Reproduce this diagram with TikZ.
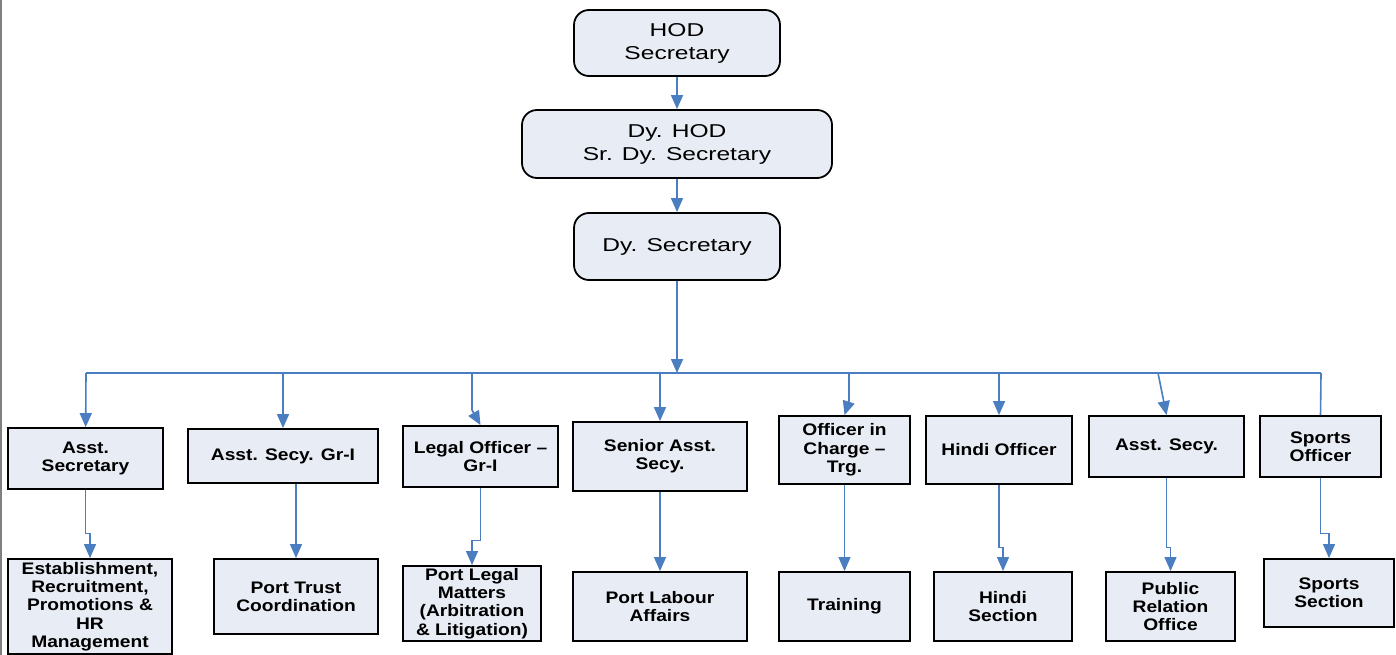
\documentclass[tikz,border=0pt]{standalone}
\usepackage{fontspec}
\setmainfont{Liberation Sans}
\newfontfamily\topfont{Liberation Sans}[FakeStretch=1.32]
\newfontfamily\lowfont{Liberation Sans}[FakeStretch=1.15]
\usetikzlibrary{arrows.meta}
\definecolor{boxfill}{RGB}{232,236,245}
\definecolor{linkblue}{RGB}{74,126,193}

\begin{document}
\begin{tikzpicture}[x=1pt,y=-1pt]
  \tikzstyle{head}  = [draw=black,line width=1.8pt,fill=boxfill,rounded corners=15pt,
                       align=center,inner sep=0pt,font=\topfont\fontsize{18.6}{23}\selectfont]
  \tikzstyle{post}  = [draw=black,line width=1.8pt,fill=boxfill,align=center,inner sep=0pt,
                       font=\lowfont\bfseries\fontsize{16.7}{18.3}\selectfont]
  \tikzstyle{link}  = [draw=linkblue,line width=1.6pt,-{Triangle[length=14pt,width=12pt]}]
  \tikzstyle{linkB} = [draw=linkblue,line width=1.1pt,-{Triangle[length=14pt,width=12pt]}]
  \useasboundingbox (0,0) rectangle (1396,655);
  \draw[gray,line width=1.5pt] (0.75,0) -- (0.75,655);
  % Head of department chain
  \path (677,  43.0) node[head,minimum width=206pt,minimum height=66pt](hod)   {HOD\\Secretary};
  \path (677, 144.0) node[head,minimum width=310pt,minimum height=68pt](dyhod) {Dy. HOD\\Sr. Dy. Secretary};
  \path (677, 246.5) node[head,minimum width=206pt,minimum height=67pt](dysec) {Dy. Secretary};
  \draw[link] (hod) -- (dyhod);
  \draw[link] (dyhod) -- (dysec);
  % Officers
  \path (  85.5, 458.5) node[post,minimum width=155pt,minimum height=61pt](asec)   {Asst.\\Secretary};
  \path ( 283.0, 456.0) node[post,minimum width=190pt,minimum height=54pt](asg)    {Asst. Secy. Gr-I};
  \path ( 480.5, 456.5) node[post,minimum width=155pt,minimum height=61pt](legal)  {Legal Officer –\\Gr-I};
  \path ( 660.0, 456.5) node[post,minimum width=174pt,minimum height=69pt](sasec)  {Senior Asst.\\Secy.};
  \path ( 844.5, 450.0) node[post,minimum width=131pt,minimum height=68pt](oic)    {Officer in\\Charge –\\Trg.};
  \path ( 999.0, 450.0) node[post,minimum width=146pt,minimum height=68pt](hindi)  {Hindi Officer};
  \path (1166.5, 446.5) node[post,minimum width=155pt,minimum height=61pt](asecy)  {Asst. Secy.};
  \path (1320.5, 446.5) node[post,minimum width=121pt,minimum height=61pt](sports) {Sports\\Officer};
  % Sections
  \path (  90.0, 606.5) node[post,minimum width=164pt,minimum height=95pt](estab) {Establishment,\\Recruitment,\\Promotions \&\\HR\\Management};
  \path ( 296.0, 596.5) node[post,minimum width=164pt,minimum height=75pt](ptc)   {Port Trust\\Coordination};
  \path ( 472.0, 603.5) node[post,minimum width=138pt,minimum height=75pt](plm)   {Port Legal\\Matters\\(Arbitration\\\& Litigation)};
  \path ( 660.0, 606.5) node[post,minimum width=174pt,minimum height=69pt](pla)   {Port Labour\\Affairs};
  \path ( 844.5, 606.5) node[post,minimum width=131pt,minimum height=69pt](trg)   {Training};
  \path (1003.0, 606.5) node[post,minimum width=138pt,minimum height=69pt](hsec)  {Hindi\\Section};
  \path (1170.5, 606.5) node[post,minimum width=129pt,minimum height=69pt](pro)   {Public\\Relation\\Office};
  \path (1329.0, 593.0) node[post,minimum width=130pt,minimum height=68pt](ssec)  {Sports\\Section};
  % Bus from Dy. Secretary
  \coordinate (busmid) at (677,373);
  \coordinate (b1) at (  86,373);
  \coordinate (b2) at ( 283,373);
  \coordinate (b3) at ( 472,373);
  \coordinate (b4) at ( 660,373);
  \coordinate (b5) at ( 849,373);
  \coordinate (b6) at ( 999,373);
  \coordinate (b7) at (1158,373);
  \coordinate (b8) at (1321,373);
  \draw[link] (dysec) -- (busmid);
  \draw[draw=linkblue,line width=1.6pt] (b1) -- (b8);
  \draw[link] (b1) -- (asec);
  \draw[link] (b2) -- (asg);
  \draw[link] (b3) -- ++(0,37) -- (legal.north);
  \draw[link] (b4) -- (sasec);
  \draw[link] (b5) -- ++(0,28) -- (oic.north);
  \draw[link] (b6) -- (hindi);
  \draw[link] (b7) -- (asecy.north);
  \draw[draw=linkblue,line width=1.6pt] (b8) -- (sports.north);
  % Officer to section
  \draw[linkB] (asec.south) -- ++(0,44) -| (estab.north);
  \draw[linkB] (asg.south -| ptc.north) -- (ptc.north);
  \draw[linkB] (legal.south) -- ++(0,53) -| (plm.north);
  \draw[linkB] (sasec) -- (pla);
  \draw[linkB] (oic) -- (trg);
  \draw[linkB] (hindi.south) -- ++(0,63) -| (hsec.north);
  \draw[linkB] (asecy.south) -- ++(0,70) -| (pro.north);
  \draw[linkB] (sports.south) -- ++(0,56) -| (ssec.north);
\end{tikzpicture}
\end{document}
